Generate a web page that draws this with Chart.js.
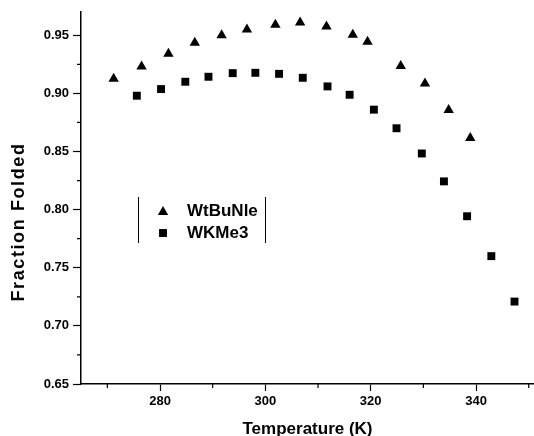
<!DOCTYPE html>
<html>
<head>
<meta charset="utf-8">
<script src="https://cdn.jsdelivr.net/npm/chart.js@4/dist/chart.umd.min.js"></script>
<style>
  html, body { margin: 0; padding: 0; background: #fff; }
  #wrap { width: 534px; height: 436px; }
</style>
</head>
<body>
<div id="wrap"><canvas id="myChart"></canvas></div>
<script>
// temperatures (K) and fraction folded
var tempWt = [271.2, 276.5, 281.6, 286.6, 291.7, 296.5, 301.9, 306.6, 311.6, 316.6, 319.4, 325.7, 330.3, 334.8, 338.9];
var foldWt = [0.9125, 0.9232, 0.9340, 0.9436, 0.9500, 0.9550, 0.9590, 0.9610, 0.9576, 0.9504, 0.9445, 0.9235, 0.9085, 0.8858, 0.8616];

var tempKMe = [275.6, 280.2, 284.8, 289.2, 293.8, 298.1, 302.6, 307.1, 311.8, 316.0, 320.6, 324.9, 329.7, 333.9, 338.3, 342.9, 347.3];
var foldKMe = [0.898, 0.9037, 0.910, 0.9143, 0.9174, 0.9177, 0.9168, 0.9134, 0.906, 0.8988, 0.886, 0.870, 0.8483, 0.8243, 0.7943, 0.760, 0.7209];

var xTicks = [280, 300, 320, 340];
var xMinor = [270, 290, 310, 330, 350];
var yTicks = [0.65, 0.70, 0.75, 0.80, 0.85, 0.90, 0.95];
var yMinor = [0.675, 0.725, 0.775, 0.825, 0.875, 0.925];

var seriesNames = ['WtBuNle', 'WKMe3'];
var yTitle = 'Fraction Folded';

function toPoints(xs, ys) {
  return xs.map(function (x, i) { return { x: x, y: ys[i] }; });
}

var FONT = '"Liberation Sans", Arial, sans-serif';

// minor ticks, y title and legend box drawn on top
var extras = {
  id: 'extras',
  afterDraw: function (chart) {
    var ctx = chart.ctx;
    var xs = chart.scales.x, ys = chart.scales.y;
    var area = chart.chartArea;
    ctx.save();
    ctx.strokeStyle = '#000';
    ctx.lineWidth = 1.2;
    ctx.beginPath();
    yMinor.forEach(function (v) {
      var p = ys.getPixelForValue(v);
      ctx.moveTo(area.left - 4, p);
      ctx.lineTo(area.left, p);
    });
    xMinor.forEach(function (v) {
      var p = xs.getPixelForValue(v);
      ctx.moveTo(p, area.bottom);
      ctx.lineTo(p, area.bottom + 4);
    });
    ctx.stroke();

    // y title, sits a bit below the axis middle like the original
    ctx.save();
    ctx.translate(19, 222);
    ctx.rotate(-Math.PI / 2);
    ctx.font = 'bold 18px ' + FONT;
    if ('letterSpacing' in ctx) ctx.letterSpacing = '1.6px';
    ctx.textAlign = 'center';
    ctx.textBaseline = 'middle';
    ctx.fillStyle = '#000';
    ctx.fillText(yTitle, 0, 0);
    ctx.restore();

    // legend
    ctx.lineWidth = 1;
    ctx.beginPath();
    ctx.moveTo(138.5, 197); ctx.lineTo(138.5, 243);
    ctx.moveTo(265.5, 197); ctx.lineTo(265.5, 243);
    ctx.stroke();
    ctx.font = 'bold 17px ' + FONT;
    ctx.textBaseline = 'middle';
    ctx.fillStyle = '#000';
    chart.data.datasets.forEach(function (ds, i) {
      var y = 211 + i * 22;
      Chart.helpers.drawPoint(ctx, {
        pointStyle: ds.pointStyle, radius: ds.pointRadius, borderWidth: 0
      }, 163, y + (ds.pointStyle === 'triangle' ? 1 : 0));
      ctx.fillStyle = '#000';
      ctx.fillText(ds.label, 187, y);
    });
    ctx.restore();
  }
};

var chart = new Chart(document.getElementById('myChart'), {
  type: 'scatter',
  data: {
    datasets: [{
      label: seriesNames[0],
      data: toPoints(tempWt, foldWt),
      pointStyle: 'triangle',
      pointRadius: 6,
      backgroundColor: '#000',
      borderColor: '#000',
      borderWidth: 0
    }, {
      label: seriesNames[1],
      data: toPoints(tempKMe, foldKMe),
      pointStyle: 'rect',
      pointRadius: 5.6,
      backgroundColor: '#000',
      borderColor: '#000',
      borderWidth: 0
    }]
  },
  options: {
    responsive: true,
    maintainAspectRatio: false,
    animation: false,
    layout: { autoPadding: false, padding: { top: 12, right: 0, left: 0, bottom: 0 } },
    plugins: {
      legend: { display: false },
      tooltip: { enabled: false }
    },
    scales: {
      x: {
        type: 'linear',
        min: 265,
        max: 351,
        afterBuildTicks: function (s) { s.ticks = xTicks.map(function (v) { return { value: v }; }); },
        afterFit: function (s) { s.height = 52; s.paddingLeft = 0; s.paddingRight = 0; },
        border: { display: true, color: '#000', width: 1.5 },
        grid: { drawOnChartArea: false, color: '#000', tickLength: 7, tickWidth: 1.2 },
        ticks: {
          color: '#000', padding: 3, maxRotation: 0,
          font: { family: FONT, size: 13, weight: 'bold' }
        },
        title: {
          display: true, text: 'Temperature (K)', color: '#000',
          padding: { top: 0, bottom: -2 },
          font: { family: FONT, size: 17, weight: 'bold', lineHeight: 1 }
        }
      },
      y: {
        type: 'linear',
        min: 0.65,
        max: 0.97,
        afterBuildTicks: function (s) { s.ticks = yTicks.map(function (v) { return { value: v }; }); },
        afterFit: function (s) { s.width = 81; s.paddingTop = 0; s.paddingBottom = 0; },
        border: { display: true, color: '#000', width: 1.5 },
        grid: { drawOnChartArea: false, color: '#000', tickLength: 8, tickWidth: 1.2 },
        ticks: {
          color: '#000', padding: 4,
          font: { family: FONT, size: 13, weight: 'bold' },
          callback: function (v) { return v.toFixed(2); }
        },
        title: { display: false }
      }
    }
  },
  plugins: [extras]
});
</script>
</body>
</html>
